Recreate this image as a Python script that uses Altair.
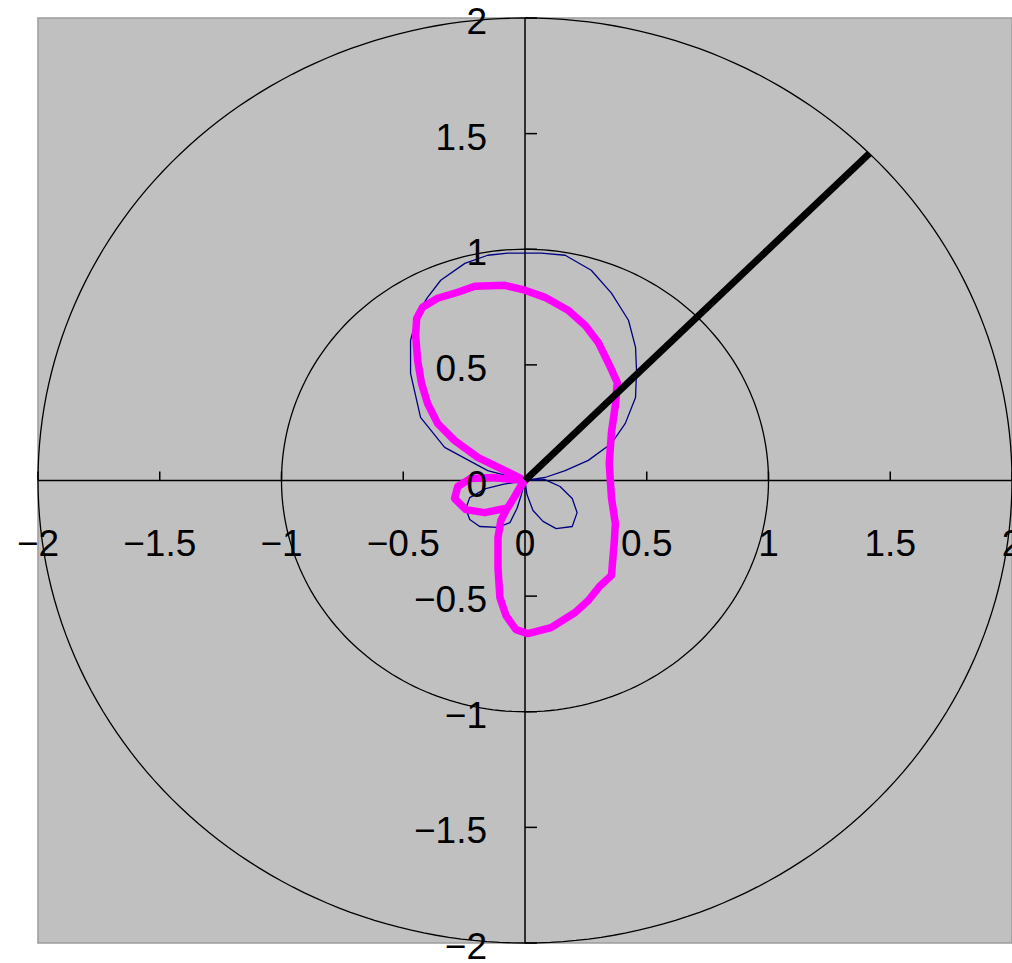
import altair as alt
import numpy as np
import pandas as pd

# Polar grid rings (radii in data units)
RING_RADII = [1, 2]

# Axis tick values and their labels
TICK_VALUES = [-2, -1.5, -1, -0.5, 0, 0.5, 1, 1.5, 2]
TICK_LABELS = ["−2", "−1.5", "−1", "−0.5", "0", "0.5", "1", "1.5", "2"]

# Thin navy pattern: main lobe, lower-left lobe, lower-right lobe
blue_x = [0, 0.082, 0.165, 0.26, 0.355, 0.412, 0.454, 0.458, 0.454, 0.425, 0.355,
          0.272, 0.165, 0.066, -0.07, -0.153, -0.247, -0.346, -0.4, -0.441, -0.47,
          -0.47, -0.429, -0.33, -0.153, 0,
          -0.091, -0.161, -0.227, -0.243, -0.227, -0.186, -0.111, -0.062, -0.033,
          -0.016, 0,
          0.008, 0.033, 0.074, 0.128, 0.194, 0.214, 0.194, 0.144, 0.082, 0]
blue_y = [0, 0.013, 0.043, 0.087, 0.16, 0.247, 0.359, 0.476, 0.576, 0.693, 0.81,
          0.909, 0.974, 0.983, 0.983, 0.974, 0.939, 0.866, 0.792, 0.723, 0.606,
          0.463, 0.273, 0.143, 0.043, 0,
          -0.017, -0.035, -0.074, -0.121, -0.169, -0.199, -0.203, -0.182, -0.121,
          -0.065, 0,
          -0.061, -0.13, -0.177, -0.208, -0.199, -0.139, -0.078, -0.026, 0.004, 0]

# Thick magenta pattern: small left loop, upper lobe, lower lobe
magenta_x = [-0.082, -0.165, -0.243, -0.289, -0.276, -0.223, -0.132, -0.049, 0,
             -0.082, -0.194, -0.289, -0.359, -0.4, -0.425, -0.441, -0.449, -0.445,
             -0.421, -0.359, -0.276, -0.206, -0.082, 0, 0.082, 0.177, 0.247, 0.301,
             0.351, 0.379, 0.371, 0.355, 0.346, 0.355, 0.371, 0.367, 0.355, 0.309,
             0.26, 0.206, 0.107, 0.012, -0.037, -0.078, -0.103, -0.111, -0.111,
             -0.099, -0.078, -0.045, -0.021, 0]
magenta_y = [-0.121, -0.139, -0.126, -0.078, -0.026, 0.009, 0.013, 0.004, 0,
             0.043, 0.1, 0.173, 0.247, 0.333, 0.42, 0.519, 0.628, 0.701,
             0.749, 0.788, 0.814, 0.84, 0.844, 0.823, 0.792, 0.736, 0.671, 0.597,
             0.489, 0.424, 0.325, 0.208, 0.074, -0.074, -0.186, -0.26, -0.411, -0.455,
             -0.519, -0.571, -0.636, -0.662, -0.645, -0.584, -0.506, -0.377, -0.247,
             -0.173, -0.13, -0.074, -0.03, 0]

# Black direction vector
vector_x = [0, 1.414]
vector_y = [0, 1.414]

W, H = 974, 925
FONT = "Liberation Sans"
FS = 37

xs = alt.Scale(domain=[-2, 2], nice=False, zero=False)
ys = alt.Scale(domain=[-2, 2], nice=False, zero=False)

# ring polylines
ang = np.linspace(0, 2 * np.pi, 241)
ring_df = pd.concat(
    [pd.DataFrame({"ring": r, "i": np.arange(len(ang)),
                   "x": r * np.cos(ang), "y": r * np.sin(ang)}) for r in RING_RADII]
)

def path_df(xv, yv):
    return pd.DataFrame({"i": range(len(xv)), "x": xv, "y": yv})

def path_layer(df, color, width, cap="round"):
    return alt.Chart(df).mark_line(
        color=color, strokeWidth=width, strokeJoin="round", strokeCap=cap
    ).encode(
        x=alt.X("x:Q", scale=xs, axis=None),
        y=alt.Y("y:Q", scale=ys, axis=None),
        order="i:Q",
    )

rings = alt.Chart(ring_df).mark_line(color="black", strokeWidth=1.3).encode(
    x=alt.X("x:Q", scale=xs, axis=None),
    y=alt.Y("y:Q", scale=ys, axis=None),
    detail="ring:N",
    order="i:Q",
)

# axis lines through the origin
axes_df = pd.DataFrame({"x": [-2, 0], "x2": [2, 0], "y": [0, -2], "y2": [0, 2]})
axis_lines = alt.Chart(axes_df).mark_rule(color="black", strokeWidth=1.5).encode(
    x=alt.X("x:Q", scale=xs, axis=None), x2="x2:Q",
    y=alt.Y("y:Q", scale=ys, axis=None), y2="y2:Q",
)

tick_df = pd.DataFrame({"v": [v for v in TICK_VALUES if v != 0]})
tick_df["zero"] = 0.0
x_ticks = alt.Chart(tick_df).mark_rule(color="black", strokeWidth=1.5, y2Offset=-9).encode(
    x=alt.X("v:Q", scale=xs, axis=None),
    y=alt.Y("zero:Q", scale=ys, axis=None), y2="zero:Q",
)
y_ticks = alt.Chart(tick_df).mark_rule(color="black", strokeWidth=1.5, x2Offset=12).encode(
    y=alt.Y("v:Q", scale=ys, axis=None),
    x=alt.X("zero:Q", scale=xs, axis=None), x2="zero:Q",
)

label_df = pd.DataFrame({"v": TICK_VALUES, "t": TICK_LABELS, "zero": 0.0})
x_labels = alt.Chart(label_df).mark_text(
    font=FONT, fontSize=FS, color="black", align="center", baseline="middle", dy=64
).encode(
    x=alt.X("v:Q", scale=xs, axis=None),
    y=alt.Y("zero:Q", scale=ys, axis=None),
    text="t:N",
)
y_labels = alt.Chart(label_df).mark_text(
    font=FONT, fontSize=FS, color="black", align="right", baseline="middle", dx=-38, dy=5
).encode(
    y=alt.Y("v:Q", scale=ys, axis=None),
    x=alt.X("zero:Q", scale=xs, axis=None),
    text="t:N",
)

blue = path_layer(path_df(blue_x, blue_y), "#000080", 1.3)
magenta = path_layer(path_df(magenta_x, magenta_y), "#FF00FF", 7.5)
vector = path_layer(path_df(vector_x, vector_y), "black", 7, cap="butt")

chart = alt.layer(
    rings, axis_lines, x_ticks, y_ticks, blue, magenta, vector, x_labels, y_labels
).properties(
    width=W, height=H,
    padding={"left": 38, "top": 18, "right": 0, "bottom": 20},
    autosize=alt.AutoSizeParams(type="none"),
    background="white",
).configure_view(
    fill="#C0C0C0", stroke="#9C9C9C", strokeWidth=1.5
)

chart.save("out.html", embed_options={"renderer": "svg", "actions": False})
